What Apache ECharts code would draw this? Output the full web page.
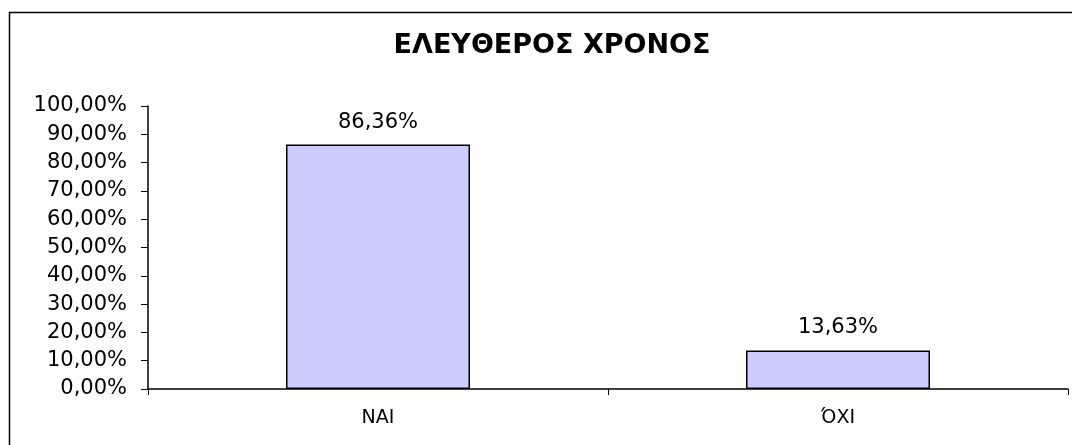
<!DOCTYPE html>
<html>
<head>
<meta charset="utf-8">
<script src="https://cdn.jsdelivr.net/npm/echarts@6/dist/echarts.min.js"></script>
<style>
html, body { margin: 0; padding: 0; background: #fff; }
#chart { width: 1072px; height: 445px; }
</style>
</head>
<body>
<div id="chart"></div>
<script>
var categories = ['ΝΑΙ', 'ΌΧΙ'];
var values = [86.36, 13.63];
var yTicks = [0, 10, 20, 30, 40, 50, 60, 70, 80, 90, 100];

var myChart = echarts.init(document.getElementById('chart'));

function pct(v) {
    return v.toFixed(2).replace('.', ',') + '%';
}

var option = {
    animation: false,
    backgroundColor: '#ffffff',
    title: {
        text: 'ΕΛΕΥΘΕΡΟΣ ΧΡΟΝΟΣ',
        left: 547,
        top: 27,
        textAlign: 'center',
        textStyle: {
            fontFamily: 'DejaVu Sans',
            fontWeight: 'bold',
            fontSize: 27,
            color: '#000'
        }
    },
    // chart area frame (only top and left edges fall inside the picture)
    graphic: [{
        type: 'polyline',
        shape: { points: [[9.5, 445], [9.5, 12.5], [1072, 12.5]] },
        style: { fill: null, stroke: '#000', lineWidth: 1.5 },
        silent: true
    }],
    grid: {
        left: 148,
        right: 4,
        top: 106,
        bottom: 56
    },
    xAxis: {
        type: 'category',
        data: categories,
        axisLine: { lineStyle: { color: '#000', width: 1.5 } },
        axisTick: { show: true, length: 6, lineStyle: { color: '#000' } },
        axisLabel: {
            margin: 20,
            fontFamily: 'DejaVu Sans',
            fontSize: 19,
            color: '#000'
        }
    },
    yAxis: {
        type: 'value',
        min: yTicks[0],
        max: yTicks[yTicks.length - 1],
        interval: 10,
        splitLine: { show: false },
        axisLine: { show: true, lineStyle: { color: '#000', width: 1.5 } },
        axisTick: { show: true, length: 7, lineStyle: { color: '#000' } },
        axisLabel: {
            margin: 21,
            fontFamily: 'DejaVu Sans',
            fontSize: 21,
            color: '#000',
            formatter: function (v) { return pct(v); }
        }
    },
    series: [{
        type: 'bar',
        data: values,
        barWidth: 184,
        itemStyle: {
            color: '#ccccff',
            borderColor: '#000',
            borderWidth: 1.5
        },
        label: {
            show: true,
            position: 'top',
            distance: 12,
            fontFamily: 'DejaVu Sans',
            fontSize: 21,
            color: '#000',
            formatter: function (p) { return pct(p.value); }
        }
    }]
};

myChart.setOption(option);
</script>
</body>
</html>
